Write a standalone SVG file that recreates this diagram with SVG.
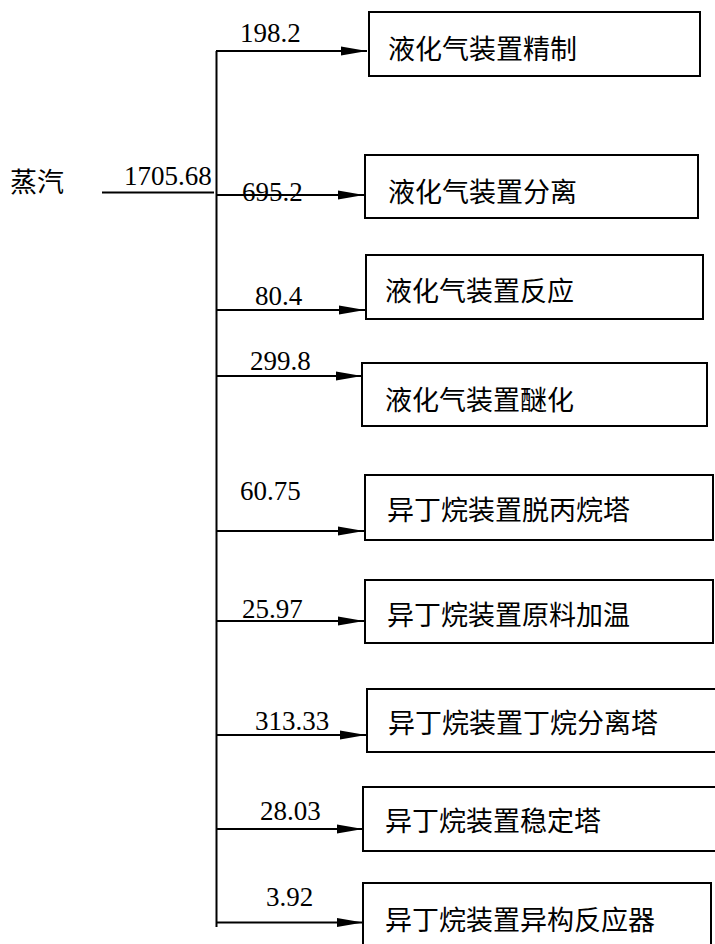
<svg xmlns="http://www.w3.org/2000/svg" width="715" height="944" viewBox="0 0 715 944">
<style>
.box{fill:#fff;stroke:#000;stroke-width:2}
.ln{stroke:#000;stroke-width:2;fill:none}
.cn{font-family:"Noto Sans CJK SC","Noto Sans CJK TC","Liberation Serif",serif;font-size:27px;fill:#000}
.num{font-family:"Liberation Serif","Times New Roman",serif;font-size:27px;fill:#000}
</style>
<defs>
<marker id="ah" markerUnits="userSpaceOnUse" markerWidth="28" markerHeight="12" refX="26" refY="5" orient="auto">
<path d="M0,0.5 L26,5 L0,9.5 z" fill="#000"/>
</marker>
</defs>
<rect width="715" height="944" fill="#fff"/>
<g id="source">
<text class="cn" x="10" y="192">蒸汽</text>
</g>
<g id="connectors">
<line class="ln" x1="102" y1="192.5" x2="214" y2="192.5"/>
<line class="ln" x1="216.5" y1="51" x2="216.5" y2="927"/>
<line class="ln" x1="216" y1="51" x2="367" y2="51" marker-end="url(#ah)"/>
<line class="ln" x1="216" y1="195" x2="364" y2="195" marker-end="url(#ah)"/>
<line class="ln" x1="216" y1="310" x2="365" y2="310" marker-end="url(#ah)"/>
<line class="ln" x1="216" y1="376" x2="362" y2="376" marker-end="url(#ah)"/>
<line class="ln" x1="216" y1="531" x2="364" y2="531" marker-end="url(#ah)"/>
<line class="ln" x1="216" y1="621" x2="364" y2="621" marker-end="url(#ah)"/>
<line class="ln" x1="216" y1="735" x2="366" y2="735" marker-end="url(#ah)"/>
<line class="ln" x1="216" y1="829" x2="363" y2="829" marker-end="url(#ah)"/>
<line class="ln" x1="216" y1="922.5" x2="363" y2="922.5" marker-end="url(#ah)"/>
<text class="num" x="124" y="185">1705.68</text>
<text class="num" x="240" y="42">198.2</text>
<text class="num" x="242" y="201">695.2</text>
<text class="num" x="255" y="305">80.4</text>
<text class="num" x="250" y="370">299.8</text>
<text class="num" x="240" y="500">60.75</text>
<text class="num" x="242" y="618">25.97</text>
<text class="num" x="255" y="730">313.33</text>
<text class="num" x="260" y="820">28.03</text>
<text class="num" x="266" y="906">3.92</text>
</g>
<g id="n1"><rect class="box" x="369" y="12" width="331" height="64"/><text class="cn" x="388" y="59">液化气装置精制</text></g>
<g id="n2"><rect class="box" x="365" y="155" width="333" height="63"/><text class="cn" x="388" y="202">液化气装置分离</text></g>
<g id="n3"><rect class="box" x="366" y="255" width="337" height="64"/><text class="cn" x="385" y="301">液化气装置反应</text></g>
<g id="n4"><rect class="box" x="362" y="363" width="345" height="63"/><text class="cn" x="385" y="410">液化气装置醚化</text></g>
<g id="n5"><rect class="box" x="365" y="475" width="348" height="65"/><text class="cn" x="387" y="520">异丁烷装置脱丙烷塔</text></g>
<g id="n6"><rect class="box" x="365" y="580" width="348" height="63"/><text class="cn" x="387" y="625">异丁烷装置原料加温</text></g>
<g id="n7"><rect class="box" x="367" y="689" width="360" height="63"/><text class="cn" x="388" y="733">异丁烷装置丁烷分离塔</text></g>
<g id="n8"><rect class="box" x="363" y="787" width="360" height="64"/><text class="cn" x="385" y="831">异丁烷装置稳定塔</text></g>
<g id="n9"><rect class="box" x="363" y="883" width="348" height="80"/><text class="cn" x="385" y="930">异丁烷装置异构反应器</text></g>
</svg>
